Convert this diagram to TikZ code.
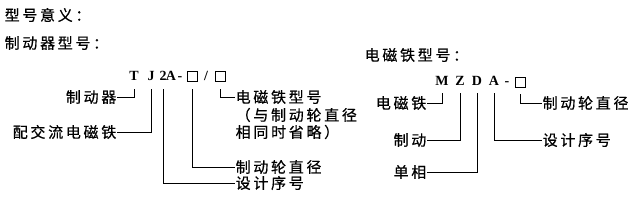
\documentclass[tikz,border=0pt]{standalone}
\usepackage{fontspec}
\setmainfont{Liberation Serif}
\newfontfamily\cjk[LetterSpace=18,FakeBold=0.6]{Noto Sans CJK SC}
\tikzset{
  zi/.style={font=\cjk\fontsize{15}{16}\selectfont,inner sep=0.5pt},
  zm/.style={font=\bfseries\fontsize{14}{16}\selectfont,inner sep=0pt,anchor=base},
  fk/.style={draw,line width=0.6pt,minimum size=10pt,inner sep=0pt},
  xian/.style={line width=0.6pt}
}
\begin{document}
\begin{tikzpicture}[x=1pt,y=-1pt]
\useasboundingbox (0,0) rectangle (637,200);
\node[zi,anchor=west] (yy) at (4,15) {型号意义：};
\node[zi,anchor=west] (zq) at (4,43) {制动器型号：};
\node[zi,anchor=west] (dc) at (364,55) {电磁铁型号：};
% TJ2A-/
\foreach \n/\x/\c in {t/134/T,j/151/J,b/163/2,a/171/A,h/180/-,s/206/{/}}
  \node[zm] (\n) at (\x,81) {\c};
\node[fk] (k1) at (192,76) {};
\node[fk] (k2) at (220,76) {};
\node[zi,anchor=east] (zdq) at (117,97) {制动器};
\node[zi,anchor=east] (pjl) at (117,132) {配交流电磁铁};
\node[zi,anchor=west] (dcx) at (235,97) {电磁铁型号};
\node[zi,anchor=west] (yz) at (235,115) {（与制动轮直径};
\node[zi,anchor=west] (xt) at (235,132) {相同时省略）};
\node[zi,anchor=west] (zdl) at (235,167) {制动轮直径};
\node[zi,anchor=west] (sjx) at (235,183) {设计序号};
\draw[xian] ([yshift=-8pt]t.south) |- (zdq.east);
\draw[xian] ([yshift=-8pt]j.south) |- (pjl.east);
\draw[xian] ([yshift=-8pt]b.south) |- (sjx.west);
\draw[xian] ([yshift=-8pt]k1.south) |- (zdl.west);
\draw[xian] ([yshift=-8pt]k2.south) |- (dcx.west);
% MZDA-
\foreach \n/\x/\c in {m/442/M,z/460/Z,d/477/D,ra/494/A,rh/507/-}
  \node[zm] (\n) at (\x,86) {\c};
\node[fk] (k3) at (520,82) {};
\node[zi,anchor=east] (dct) at (427,103) {电磁铁};
\node[zi,anchor=east] (zd) at (427,140) {制动};
\node[zi,anchor=east] (dx) at (427,172) {单相};
\node[zi,anchor=west] (zdl2) at (542,103) {制动轮直径};
\node[zi,anchor=west] (sjx2) at (542,140) {设计序号};
\draw[xian] ([yshift=-7pt]m.south) |- (dct.east);
\draw[xian] ([yshift=-7pt]z.south) |- (zd.east);
\draw[xian] ([yshift=-7pt]d.south) |- (dx.east);
\draw[xian] ([yshift=-7pt]ra.south) |- (sjx2.west);
\draw[xian] ([yshift=-7pt]k3.south) |- (zdl2.west);
\end{tikzpicture}
\end{document}
